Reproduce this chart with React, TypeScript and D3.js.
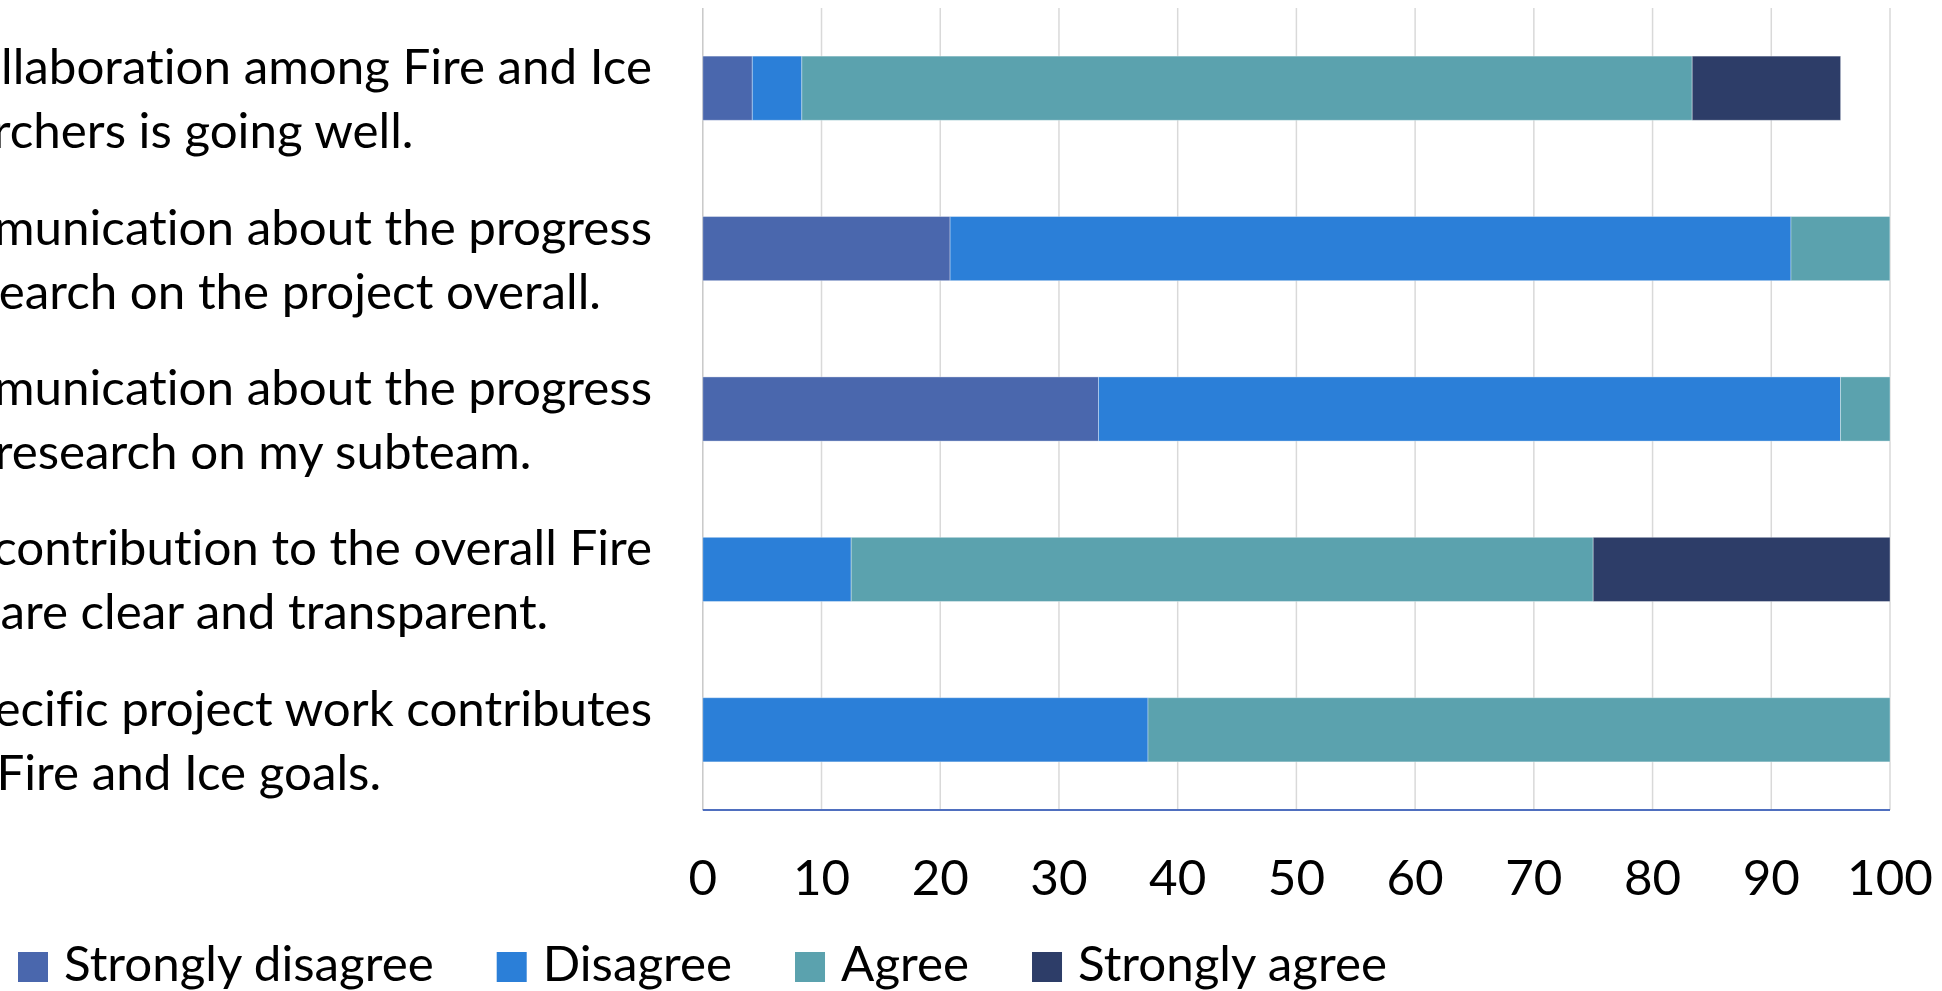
import React, { useLayoutEffect, useRef, useState } from 'react';
import * as d3 from 'd3';

const WIDTH = 1942;
const HEIGHT = 991;
const FONT = 'Lato, "Open Sans", sans-serif';
const FONT_SIZE = 49.3;

// Survey statements, top to bottom, as wrapped onto two lines
const statements: string[][] = [
  ['The collaboration among Fire and Ice', 'researchers is going well.'],
  ['Communication about the progress', 'of research on the project overall.'],
  ['Communication about the progress', 'of all research on my subteam.'],
  ['My contribution to the overall Fire', '& Ice are clear and transparent.'],
  ['My specific project work contributes', 'to all Fire and Ice goals.'],
];

const seriesNames = ['Strongly disagree', 'Disagree', 'Agree', 'Strongly agree'];
const seriesColors = ['#4A67AD', '#2B7FD8', '#5BA2AE', '#2D3D68'];

// Share of respondents (%) per statement, top to bottom
const stronglyDisagree = [4.17, 20.83, 33.33, 0, 0];
const disagree = [4.17, 70.83, 62.5, 12.5, 37.5];
const agree = [75, 8.33, 4.17, 62.5, 62.5];
const stronglyAgree = [12.5, 0, 0, 25, 0];

const xTicks = [0, 10, 20, 30, 40, 50, 60, 70, 80, 90, 100];

const plot = { left: 702.8, right: 1890, top: 8, bottom: 810 };
const labelRight = 652;
const labelLeft = -122;

export default function App() {
  const rows = statements.map((_, i) => ({
    idx: String(i),
    'Strongly disagree': stronglyDisagree[i],
    Disagree: disagree[i],
    Agree: agree[i],
    'Strongly agree': stronglyAgree[i],
  }));

  const x = d3.scaleLinear().domain([0, 100]).range([plot.left, plot.right]);
  const y = d3
    .scaleBand<string>()
    .domain(rows.map((r) => r.idx))
    .range([plot.top, plot.bottom])
    .paddingInner(0.6)
    .paddingOuter(0.3);

  const stacked = d3.stack<any>().keys(seriesNames)(rows);

  // legend: flow items left to right using measured label widths
  const legendRefs = useRef<(SVGTextElement | null)[]>([]);
  const [legendWidths, setLegendWidths] = useState<number[]>([369, 192, 123, 250]);
  useLayoutEffect(() => {
    const w = legendRefs.current.map((el) => (el ? el.getComputedTextLength() : 0));
    if (w.every((v) => v > 0)) setLegendWidths(w);
  }, []);
  const legendX: number[] = [];
  let cursor = 18;
  seriesNames.forEach((_, i) => {
    legendX.push(cursor);
    cursor += 46 + legendWidths[i] + 63;
  });

  return (
    <svg
      width={WIDTH}
      height={HEIGHT}
      style={{ position: 'absolute', left: 0, top: 0, background: '#fff', fontVariantLigatures: 'none' }}
      fontFamily={FONT}
    >
      <rect x={0} y={0} width={WIDTH} height={HEIGHT} fill="#fff" />

      {/* vertical gridlines */}
      {xTicks.map((t) => (
        <line
          key={t}
          x1={x(t)}
          x2={x(t)}
          y1={plot.top}
          y2={plot.bottom}
          stroke={t === 0 ? '#c8c8c8' : '#d9d9d9'}
          strokeWidth={1.5}
        />
      ))}

      {/* stacked bars */}
      {stacked.map((layer, si) => (
        <g key={layer.key} fill={seriesColors[si]}>
          {layer.map((d, i) => {
            const w = x(d[1]) - x(d[0]);
            if (w <= 0) return null;
            return (
              <rect
                key={i}
                x={x(d[0])}
                y={y(rows[i].idx)}
                width={w}
                height={y.bandwidth()}
                stroke="#ffffff"
                strokeOpacity={0.35}
                strokeWidth={1}
              />
            );
          })}
        </g>
      ))}

      {/* value axis line */}
      <line
        x1={plot.left}
        x2={plot.right}
        y1={plot.bottom}
        y2={plot.bottom}
        stroke="#4F6FBF"
        strokeWidth={2}
      />

      {/* tick labels */}
      {xTicks.map((t) => (
        <text
          key={t}
          x={x(t)}
          y={895}
          textAnchor="middle"
          fontSize={FONT_SIZE}
          fill="#000"
        >
          {t}
        </text>
      ))}

      {/* category labels */}
      {statements.map((lines, i) => {
        const c = (y(String(i)) as number) + y.bandwidth() / 2;
        return (
          <g key={i} fontSize={FONT_SIZE} fill="#000">
            <text x={labelRight} y={c - 4} textAnchor="end">
              {lines[0]}
            </text>
            <text x={labelLeft} y={c + 60}>
              {lines[1]}
            </text>
          </g>
        );
      })}

      {/* legend */}
      {seriesNames.map((name, i) => (
        <g key={name}>
          <rect x={legendX[i]} y={952} width={30} height={30} fill={seriesColors[i]} />
          <text
            ref={(el) => {
              legendRefs.current[i] = el;
            }}
            x={legendX[i] + 46}
            y={981}
            fontSize={FONT_SIZE}
            fill="#000"
          >
            {name}
          </text>
        </g>
      ))}
    </svg>
  );
}
